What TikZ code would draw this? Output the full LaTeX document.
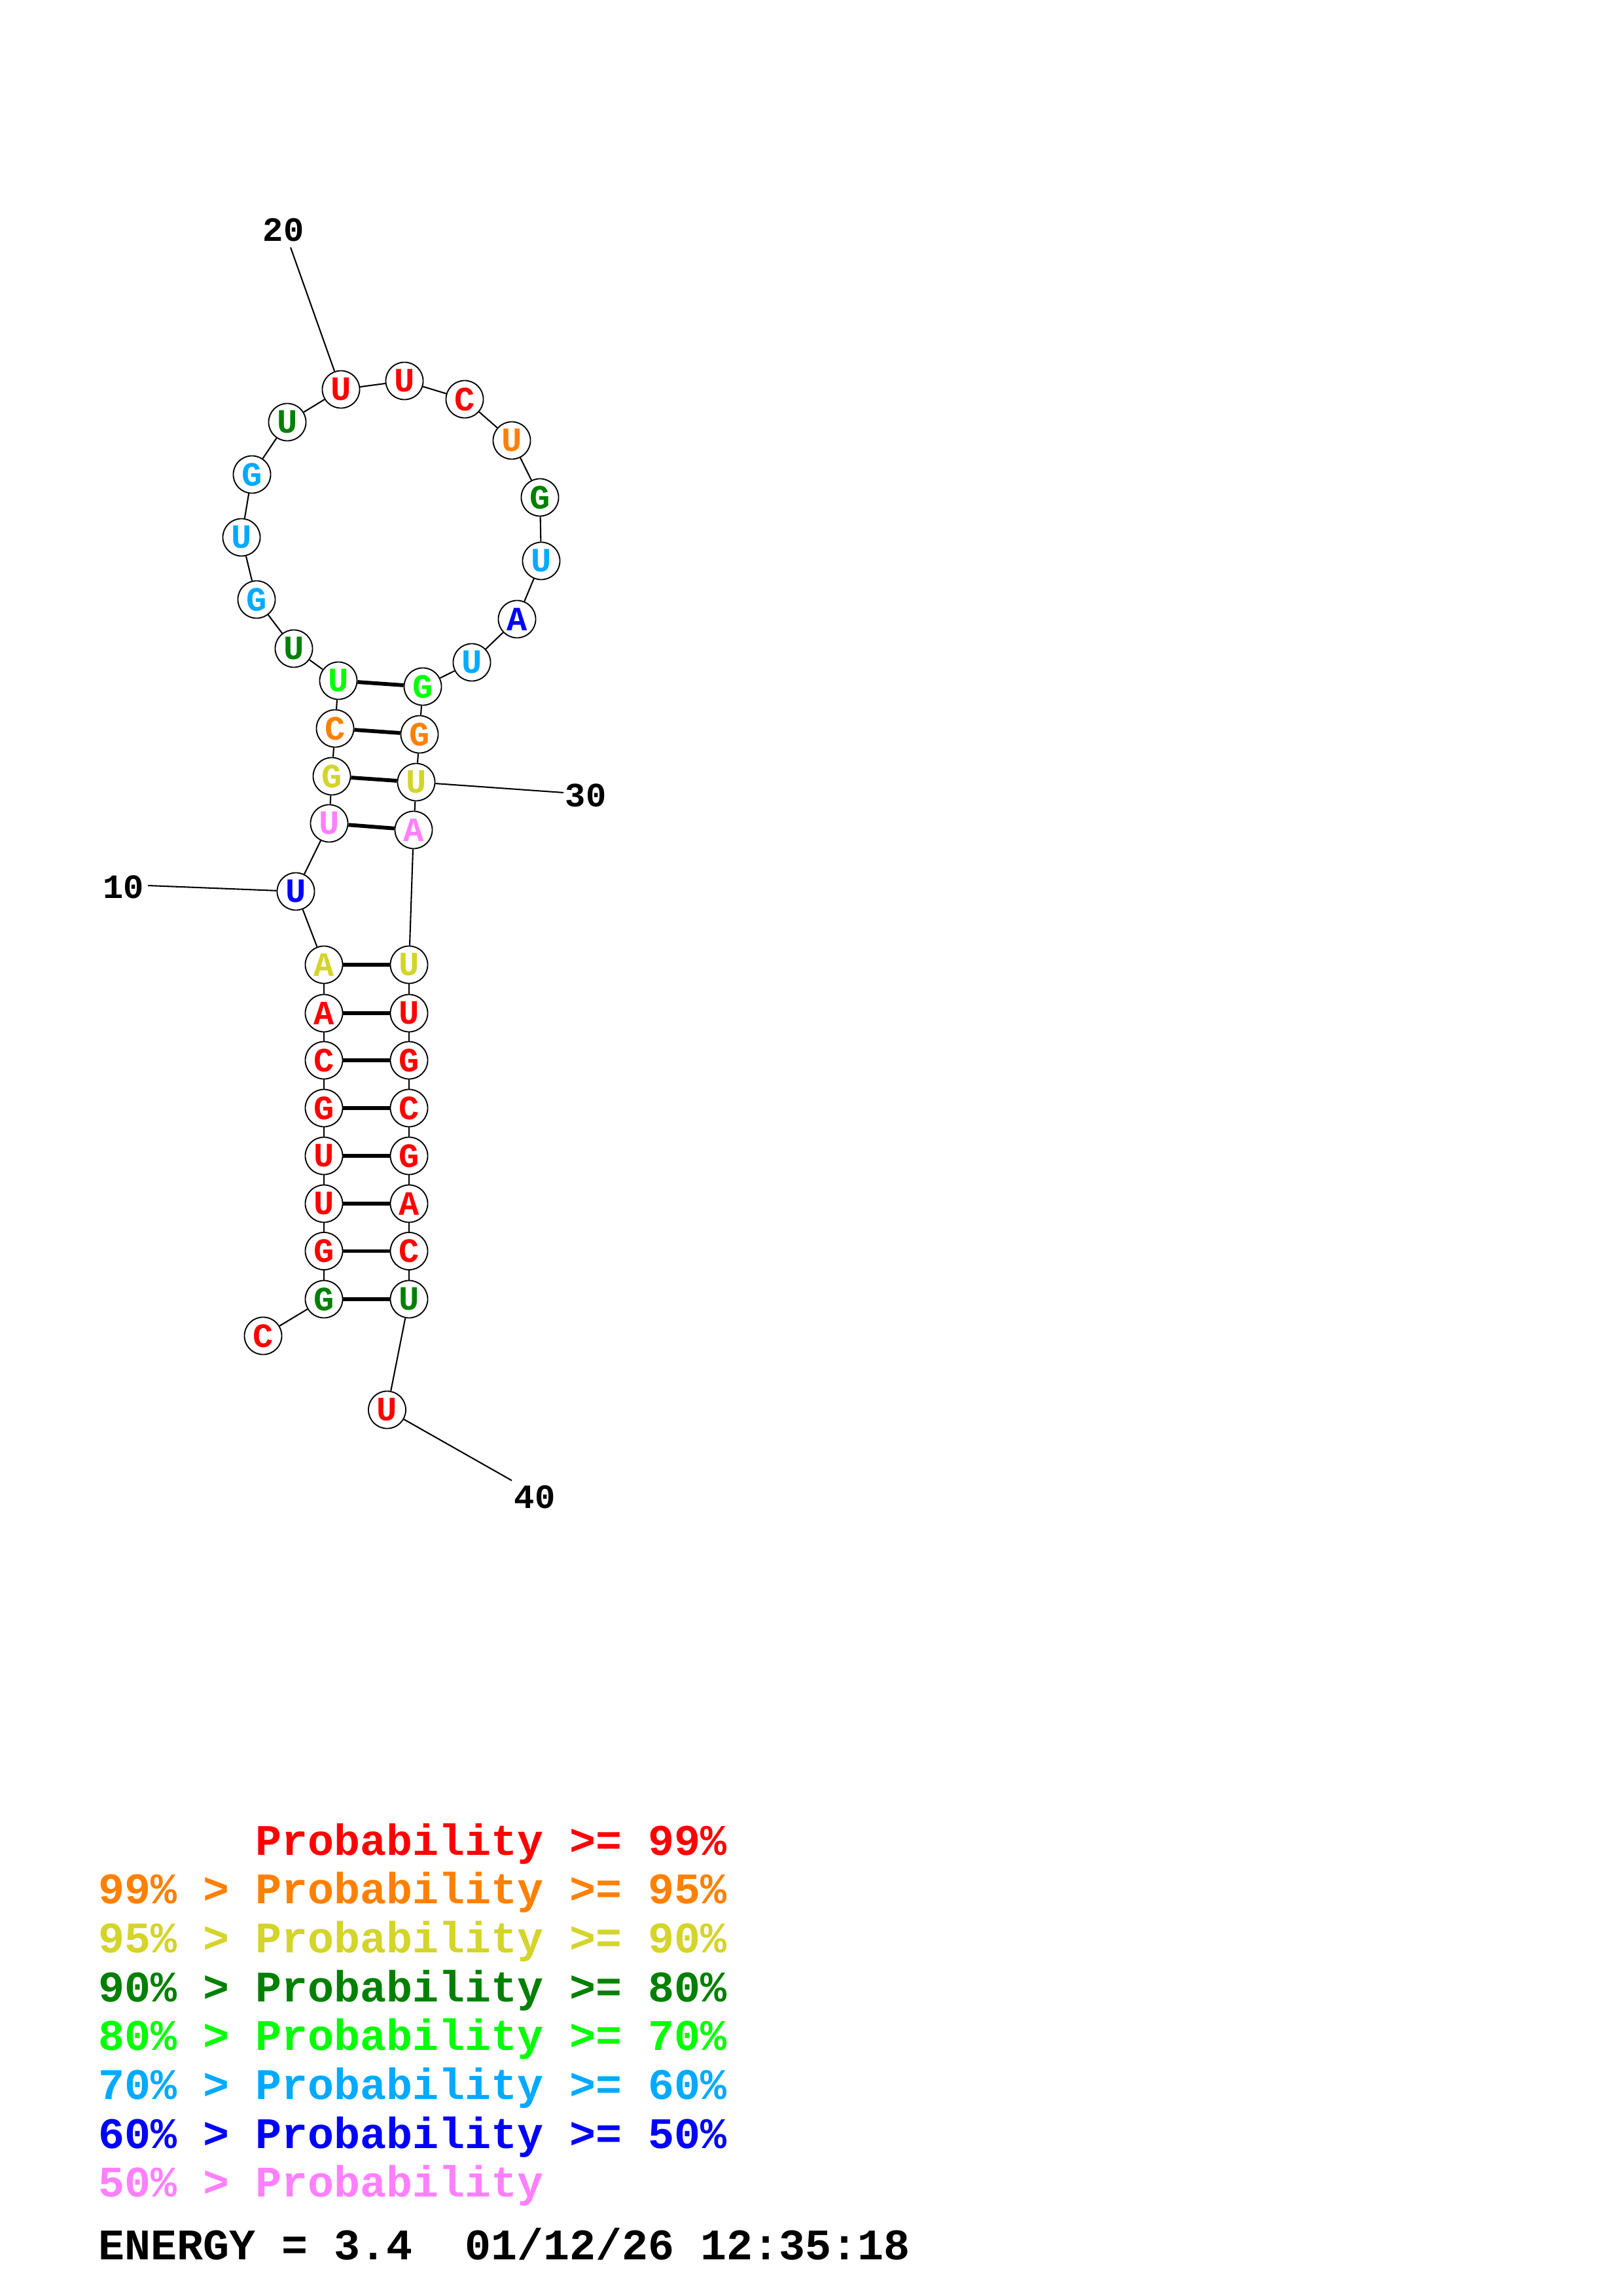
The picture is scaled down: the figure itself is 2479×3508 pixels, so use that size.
\documentclass[tikz,border=0pt]{standalone}
\usepackage{fontspec}
\setmonofont{Liberation Mono}
\definecolor{cR}{RGB}{255,0,0}
\definecolor{cO}{RGB}{255,128,0}
\definecolor{cY}{RGB}{212,212,43}
\definecolor{cD}{RGB}{0,128,0}
\definecolor{cG}{RGB}{0,255,0}
\definecolor{cL}{RGB}{0,170,255}
\definecolor{cB}{RGB}{0,0,255}
\definecolor{cP}{RGB}{255,128,255}
\begin{document}
\begin{tikzpicture}[x=0.24pt,y=-0.24pt,
  nt/.style={circle,draw=black,line width=0.45pt,fill=white,minimum size=13.7pt,inner sep=0pt,
     font=\ttfamily\bfseries\fontsize{12.5}{12.5}\selectfont},
  bb/.style={draw=black,line width=0.5pt},
  bp/.style={draw=black,line width=1.4pt},
  num/.style={font=\ttfamily\bfseries\fontsize{12.5}{12.5}\selectfont,inner sep=0pt},
  leg/.style={anchor=base west,inner sep=0pt,font=\ttfamily\bfseries\fontsize{16}{16}\selectfont}]
\useasboundingbox[fill=white] (0,0) rectangle (2479,3508);
% nucleotides
\foreach \i/\x/\y/\c/\l in {
 1/402/2041/cR/C, 2/495/1985/cD/G, 3/495/1911.5/cR/G, 4/495/1839/cR/U,
 5/495/1766/cR/U, 6/495/1693/cR/G, 7/495/1620/cR/C, 8/495/1548/cR/A,
 9/495/1474/cY/A, 10/452/1362/cB/U, 11/503/1258/cP/U, 12/507/1186/cY/G,
 13/512/1113/cO/C, 14/517/1040/cG/U, 15/449/991/cD/U, 16/392/916/cL/G,
 17/369/821/cL/U, 18/385/725/cL/G, 19/439/645/cD/U, 20/521/595/cR/U,
 21/618/582/cR/U, 22/710/610/cR/C, 23/782/673/cO/U, 24/825/760/cD/G,
 25/827/857/cL/U, 26/790/946/cB/A, 27/721/1012/cL/U, 28/646/1049/cG/G,
 29/641/1122/cO/G, 30/636/1195/cY/U, 31/632/1268/cP/A, 32/625/1474/cY/U,
 33/625/1548/cR/U, 34/625/1620/cR/G, 35/625/1693/cR/C, 36/625/1766/cR/G,
 37/625/1839/cR/A, 38/625/1911.5/cR/C, 39/625/1985/cD/U, 40/591.5/2154/cR/U}
 \node[nt,text=\c] (n\i) at (\x,\y) {\l};
% backbone
\foreach \a [evaluate=\a as \b using int(\a+1)] in {1,...,39}
 \draw[bb] (n\a) -- (n\b);
% base pairs
\foreach \a/\b in {2/39,3/38,4/37,5/36,6/35,7/34,8/33,9/32,11/31,12/30,13/29,14/28}
 \draw[bp] (n\a) -- (n\b);
% position labels
\node[num] (t20) at (433,351) {20};
\node[num] (t10) at (189,1355) {10};
\node[num] (t30) at (895,1215) {30};
\node[num] (t40) at (817,2287) {40};
\coordinate (c20) at (444,378);
\coordinate (c10) at (226,1353);
\coordinate (c30) at (861,1211);
\coordinate (c40) at (782,2262);
\draw[bb] (c20) -- (n20);
\draw[bb] (c10) -- (n10);
\draw[bb] (c30) -- (n30);
\draw[bb] (c40) -- (n40);
% legend
\node[leg,text=cR] (g1) at (150,2834) {\phantom{99\% > }Probability >= 99\%};
\node[leg,text=cO] (g2) at (150,2908.7) {99\% > Probability >= 95\%};
\node[leg,text=cY] (g3) at (150,2983.4) {95\% > Probability >= 90\%};
\node[leg,text=cD] (g4) at (150,3058.1) {90\% > Probability >= 80\%};
\node[leg,text=cG] (g5) at (150,3132.8) {80\% > Probability >= 70\%};
\node[leg,text=cL] (g6) at (150,3207.5) {70\% > Probability >= 60\%};
\node[leg,text=cB] (g7) at (150,3282.2) {60\% > Probability >= 50\%};
\node[leg,text=cP] (g8) at (150,3356.9) {50\% > Probability};
\node[leg,text=black] (en) at (150,3452) {ENERGY = 3.4\ \ 01/12/26 12:35:18};
\end{tikzpicture}
\end{document}
